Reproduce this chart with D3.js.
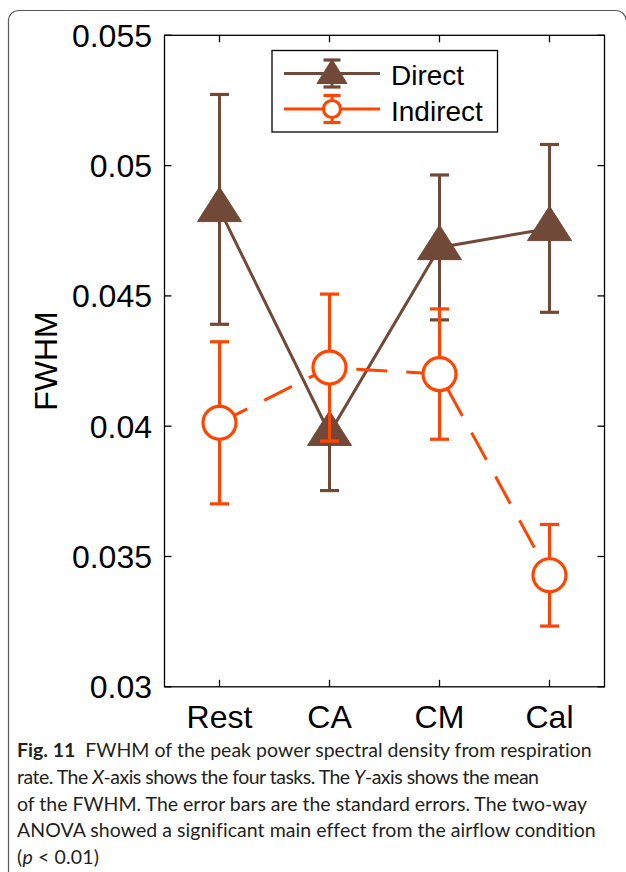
<!DOCTYPE html>
<html><head><meta charset="utf-8">
<script src="https://cdn.jsdelivr.net/npm/d3@7"></script>
<style>html,body{margin:0;padding:0;background:#fff;}svg{display:block;}</style>
</head><body>
<svg id="chart" width="626" height="872"></svg>
<script>
const categories = ["Rest", "CA", "CM", "Cal"];
const directMean = [0.04832, 0.03973, 0.04686, 0.04759];
const directSE = [0.00441, 0.00220, 0.00278, 0.00322];
const indirectMean = [0.04013, 0.04225, 0.04200, 0.03428];
const indirectSE = [0.00311, 0.00282, 0.00250, 0.00195];
const yTicks = [0.03, 0.035, 0.04, 0.045, 0.05, 0.055];
const yTickLabels = ["0.03", "0.035", "0.04", "0.045", "0.05", "0.055"];
const seriesNames = ["Direct", "Indirect"];

const BROWN = "#714938", ORANGE = "#ff4500";
const svg = d3.select("#chart");
const L = 164.5, R = 604.5, T = 35.3, B = 686.8;
const x = d3.scaleLinear().domain([0.5, 4.5]).range([L, R]);
const y = d3.scaleLinear().domain([0.03, 0.055]).range([B, T]);

// frame
svg.append("path").attr("d", "M8.5,872 V20 A10,10 0 0 1 18.5,10.5 H616 A10,10 0 0 1 626,20")
  .attr("fill", "none").attr("stroke", "#58595b").attr("stroke-width", 1.2);

// axes box
const ax = svg.append("g");
ax.append("rect").attr("x", L).attr("y", T).attr("width", R - L).attr("height", B - T)
  .attr("fill", "none").attr("stroke", "#000").attr("stroke-width", 1.3);
const tl = 7;
categories.forEach((c, i) => {
  const xx = x(i + 1);
  ax.append("line").attr("x1", xx).attr("x2", xx).attr("y1", B).attr("y2", B - tl).attr("stroke", "#000").attr("stroke-width", 1.3);
  ax.append("line").attr("x1", xx).attr("x2", xx).attr("y1", T).attr("y2", T + tl).attr("stroke", "#000").attr("stroke-width", 1.3);
  ax.append("text").attr("x", xx).attr("y", 728).attr("text-anchor", "middle")
    .attr("font-family", "Liberation Sans, Arial, sans-serif").attr("font-size", 32).text(c);
});
yTicks.forEach((t, i) => {
  const yy = y(t);
  ax.append("line").attr("x1", L).attr("x2", L + tl).attr("y1", yy).attr("y2", yy).attr("stroke", "#000").attr("stroke-width", 1.3);
  ax.append("line").attr("x1", R).attr("x2", R - tl).attr("y1", yy).attr("y2", yy).attr("stroke", "#000").attr("stroke-width", 1.3);
  ax.append("text").attr("x", 152).attr("y", yy + 11.5).attr("text-anchor", "end")
    .attr("font-family", "Liberation Sans, Arial, sans-serif").attr("font-size", 32).text(yTickLabels[i]);
});
svg.append("text").attr("transform", `translate(57,${(T + B) / 2}) rotate(-90)`)
  .attr("text-anchor", "middle").attr("font-family", "Liberation Sans, Arial, sans-serif")
  .attr("font-size", 32).text("FWHM");

const tri = (hw, top, base) => `M0,${-top} L${hw},${base} L${-hw},${base} Z`;
const lineGen = d3.line().x((d, i) => x(i + 1)).y(d => y(d));

function drawSeries(means, ses, color, dashed, marker) {
  const g = svg.append("g");
  const p = g.append("path").attr("d", lineGen(means)).attr("fill", "none")
    .attr("stroke", color).attr("stroke-width", 3);
  if (dashed) p.attr("stroke-dasharray", "31,19");
  means.forEach((m, i) => {
    const xx = x(i + 1), y1 = y(m + ses[i]), y2 = y(m - ses[i]);
    g.append("line").attr("x1", xx).attr("x2", xx).attr("y1", y1).attr("y2", y2).attr("stroke", color).attr("stroke-width", 3);
    [y1, y2].forEach(yc => g.append("line").attr("x1", xx - 9.5).attr("x2", xx + 9.5).attr("y1", yc).attr("y2", yc).attr("stroke", color).attr("stroke-width", 3.2));
  });
  means.forEach((m, i) => {
    const xx = x(i + 1), yy = y(m);
    if (marker === "tri") {
      g.append("path").attr("d", tri(22, 22.3, 12.2)).attr("transform", `translate(${xx},${yy})`)
        .attr("fill", color).attr("stroke", color).attr("stroke-width", 1);
    } else {
      g.append("circle").attr("cx", xx).attr("cy", yy).attr("r", 16.5)
        .attr("fill", "#fff").attr("stroke", color).attr("stroke-width", 3.2);
    }
  });
}
drawSeries(directMean, directSE, BROWN, false, "tri");
drawSeries(indirectMean, indirectSE, ORANGE, true, "circ");

// legend
const lg = svg.append("g");
lg.append("rect").attr("x", 272).attr("y", 50.5).attr("width", 225.5).attr("height", 81.5)
  .attr("fill", "#fff").attr("stroke", "#000").attr("stroke-width", 1.3);
const legendRows = [
  { name: seriesNames[0], color: BROWN, y: 73.5, marker: "tri" },
  { name: seriesNames[1], color: ORANGE, y: 109, marker: "circ" }
];
legendRows.forEach(r => {
  lg.append("line").attr("x1", 284).attr("x2", 380).attr("y1", r.y).attr("y2", r.y).attr("stroke", r.color).attr("stroke-width", 3);
  lg.append("line").attr("x1", 332).attr("x2", 332).attr("y1", r.y - 13.5).attr("y2", r.y + 13.5).attr("stroke", r.color).attr("stroke-width", 3);
  [r.y - 13.5, r.y + 13.5].forEach(yc => lg.append("line").attr("x1", 323.5).attr("x2", 340.5).attr("y1", yc).attr("y2", yc).attr("stroke", r.color).attr("stroke-width", 3.2));
  if (r.marker === "tri") {
    lg.append("path").attr("d", tri(15, 14, 10)).attr("transform", `translate(332,${r.y})`).attr("fill", r.color).attr("stroke", r.color);
  } else {
    lg.append("circle").attr("cx", 332).attr("cy", r.y).attr("r", 8.5).attr("fill", "#fff").attr("stroke", r.color).attr("stroke-width", 3.2);
  }
  lg.append("text").attr("x", 391).attr("y", r.y + 11.5).attr("font-family", "Liberation Sans, Arial, sans-serif")
    .attr("font-size", 28).text(r.name);
});

// caption
const cap = svg.append("g").attr("font-family", "Lato, 'Open Sans', sans-serif").attr("font-size", 19.5).attr("fill", "#231f20");
const capLines = [
  { y: 757, w: 575, parts: [["Fig. 11", "bold"], ["\u2002FWHM of the peak power spectral density from respiration", ""]] },
  { y: 784, w: 522, parts: [["rate. The ", ""], ["X", "italic"], ["-axis shows the four tasks. The ", ""], ["Y", "italic"], ["-axis shows the mean", ""]] },
  { y: 810.5, w: 570, parts: [["of the FWHM. The error bars are the standard errors. The two-way", ""]] },
  { y: 837, w: 578, parts: [["ANOVA showed a significant main effect from the airflow condition", ""]] },
  { y: 863.5, w: 82, parts: [["(", ""], ["p", "italic"], [" < 0.01)", ""]] }
];
capLines.forEach(l => {
  const t = cap.append("text").attr("x", 17).attr("y", l.y);
  l.parts.forEach(([s, st]) => {
    const ts = t.append("tspan").text(s);
    if (st === "bold") ts.attr("font-weight", "bold");
    if (st === "italic") ts.attr("font-style", "italic");
  });
  const natural = t.node().getComputedTextLength();
  const n = l.parts.reduce((a, p) => a + p[0].length, 0);
  const ls = (l.w - natural) / Math.max(1, n - 1);
  t.attr("letter-spacing", ls.toFixed(3));
});
</script>
</body></html>
